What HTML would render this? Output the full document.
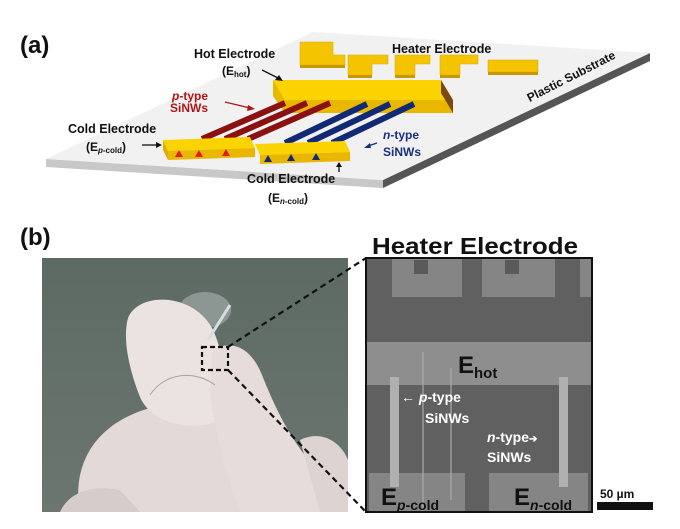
<!DOCTYPE html>
<html><head><meta charset="utf-8"><style>
html,body{margin:0;padding:0;background:#fff;}
svg{display:block;font-family:"Liberation Sans",Arial,sans-serif;}
</style></head><body>
<svg width="680" height="529" viewBox="0 0 680 529" xmlns="http://www.w3.org/2000/svg">
<rect width="680" height="529" fill="#fff"/>
<text x="20" y="53" font-size="24" font-weight="bold" fill="#111">(a)</text>
<polygon points="46,167 383,188 383,180 46,159" fill="#c8c8c8"/>
<polygon points="383,188 650,61 650,53 383,180" fill="#555"/>
<polygon points="46,159 313,32 650,53 383,180" fill="#f1f1f1"/>
<text transform="translate(573,80) rotate(-27)" font-size="12" font-weight="bold" text-anchor="middle" fill="#111">Plastic Substrate</text>
<g fill="#f5c400" stroke="#d9a300" stroke-width="0.5">
<polygon points="300,42 333,42 333,55 345,55 345,65 300,65"/>
<polygon points="348,55 388,55 388,64 372,64 372,75 348,75"/>
<polygon points="395,55 430,55 430,64 415,64 415,75 395,75"/>
<polygon points="440,55 478,55 478,64 460,64 460,75 440,75"/>
<polygon points="488,60 538,60 538,72 488,72"/>
</g>
<g fill="#c99700"><rect x="300" y="65" width="45" height="3"/><rect x="348" y="75" width="24" height="3"/><rect x="395" y="75" width="20" height="3"/><rect x="440" y="75" width="20" height="3"/><rect x="488" y="72" width="50" height="3"/></g>
<text x="392" y="53" font-size="12.5" font-weight="bold" fill="#111">Heater Electrode</text>
<polygon points="273,80 441,80 453,100 285,100" fill="#fbd300"/>
<polygon points="273,80 285,100 285,113 273,96" fill="#e8b800"/>
<polygon points="285,100 453,100 453,113 285,113" fill="#e9b700"/>
<polygon points="453,100 441,80 441,93 453,113" fill="#7a4a10"/>
<g stroke-width="6" stroke-linecap="butt">
<line x1="285" y1="103" x2="202" y2="139" stroke="#8b1010"/>
<line x1="307" y1="103" x2="225" y2="139" stroke="#8b1010"/>
<line x1="330" y1="103" x2="248" y2="139" stroke="#8b1010"/>
<line x1="367" y1="104" x2="285" y2="143" stroke="#122a75"/>
<line x1="390" y1="104" x2="308" y2="143" stroke="#122a75"/>
<line x1="414" y1="104" x2="332" y2="143" stroke="#122a75"/>
</g>
<polygon points="163,140 250,137 255,148 168,151" fill="#fbd300"/>
<polygon points="168,151 255,148 255,157 168,160" fill="#e9b700"/>
<polygon points="163,140 168,151 168,160 163,150" fill="#e0ac00"/>
<polygon points="255,144 345,141 350,152 260,155" fill="#fbd300"/>
<polygon points="260,155 350,152 350,161 260,164" fill="#e9b700"/>
<g fill="#e21c1c"><polygon points="175,157 179,150 183,157"/><polygon points="195,157 199,150 203,157"/><polygon points="222,156 226,149 230,156"/></g>
<g fill="#122a75"><polygon points="264,162 268,155 272,162"/><polygon points="287,161 291,154 295,161"/><polygon points="312,160 316,153 320,160"/></g>
<g font-weight="bold" fill="#111" font-size="12.5">
<text x="194" y="58">Hot Electrode</text>
<text x="222" y="75" font-size="12">(E<tspan font-size="8" dy="2">hot</tspan><tspan dy="-2">)</tspan></text>
<text x="68" y="133">Cold Electrode</text>
<text x="86" y="151" font-size="12">(E<tspan font-size="8" dy="2" font-style="italic">p</tspan><tspan font-size="8">-cold</tspan><tspan dy="-2">)</tspan></text>
<text x="247" y="183">Cold Electrode</text>
<text x="268" y="202" font-size="12">(E<tspan font-size="8" dy="2" font-style="italic">n</tspan><tspan font-size="8">-cold</tspan><tspan dy="-2">)</tspan></text>
</g>
<g fill="#b01515" font-weight="bold" font-size="12"><text x="172" y="100"><tspan font-style="italic">p</tspan>-type</text><text x="170" y="112">SiNWs</text></g>
<g fill="#1a2f80" font-weight="bold" font-size="12"><text x="383" y="139"><tspan font-style="italic">n</tspan>-type</text><text x="383" y="156">SiNWs</text></g>
<g stroke-width="1.3" fill="none">
<line x1="262" y1="70" x2="280" y2="79" stroke="#111"/><polygon points="283,81 275,80 279,75" fill="#111"/>
<line x1="225" y1="102" x2="250" y2="108" stroke="#b01515"/><polygon points="255,109 247,111 248,105" fill="#b01515"/>
<line x1="142" y1="145" x2="157" y2="145" stroke="#111"/><polygon points="162,145 156,142 156,148" fill="#111"/>
<line x1="377" y1="143" x2="368" y2="146" stroke="#1a2f80"/><polygon points="364,148 370,143 371,148" fill="#1a2f80"/>
<line x1="339" y1="172" x2="339" y2="166" stroke="#111"/><polygon points="339,162 336,167 342,167" fill="#111"/>
</g>
<text x="20" y="245" font-size="24" font-weight="bold" fill="#111">(b)</text>
<defs><clipPath id="ph"><rect x="42" y="258" width="306" height="254"/></clipPath>
<linearGradient id="bg" x1="0" y1="0" x2="0" y2="1"><stop offset="0" stop-color="#5d6a64"/><stop offset="1" stop-color="#6c7671"/></linearGradient></defs>
<g clip-path="url(#ph)">
<rect x="42" y="258" width="306" height="254" fill="url(#bg)"/>
<ellipse cx="205" cy="310" rx="26" ry="18" fill="#aab3b0" opacity="0.6"/>
<path d="M80,512 C72,470 90,425 150,408 C200,395 250,400 270,440 L300,512 Z" fill="#e3dad7"/>
<path d="M60,512 C70,490 95,485 120,490 L140,512 Z" fill="#d6ccc9"/>
<path d="M128,318 C138,292 192,292 212,328 C228,360 226,398 215,422 C190,432 150,422 140,397 C130,372 122,340 128,318 Z" fill="#ebe3e0"/>
<path d="M212,350 C230,340 250,345 262,375 C280,420 300,460 348,500 L348,512 L240,512 C225,470 215,430 210,395 Z" fill="#e6dcd9"/>
<path d="M300,440 C320,430 340,440 348,460 L348,512 L320,512 Z" fill="#ddd3d0"/>
<path d="M150,395 C165,372 195,370 215,385" fill="none" stroke="#a9a09d" stroke-width="1"/>
<line x1="208" y1="340" x2="230" y2="305" stroke="#d8dee0" stroke-width="3"/>
</g>
<rect x="202" y="347" width="26" height="23" fill="none" stroke="#111" stroke-width="2.2" stroke-dasharray="5,3"/>
<line x1="228" y1="347" x2="366" y2="258" stroke="#111" stroke-width="2.2" stroke-dasharray="6,4"/>
<line x1="228" y1="370" x2="366" y2="512" stroke="#111" stroke-width="2.2" stroke-dasharray="6,4"/>
<rect x="366" y="258" width="226" height="254" fill="#606060"/>
<rect x="392" y="258" width="70" height="39" fill="#858585"/>
<rect x="482" y="258" width="73" height="39" fill="#858585"/>
<rect x="414" y="260" width="14" height="14" fill="#5a5a5a"/>
<rect x="505" y="260" width="14" height="14" fill="#5a5a5a"/>
<rect x="580" y="258" width="12" height="39" fill="#858585"/>
<rect x="366" y="342" width="226" height="43" fill="#8e8e8e"/>
<rect x="369" y="473" width="96" height="39" fill="#858585"/>
<rect x="489" y="473" width="99" height="39" fill="#858585"/>
<rect x="390" y="377" width="9" height="110" fill="#b0b0b0"/>
<rect x="559" y="377" width="9" height="110" fill="#b0b0b0"/>
<line x1="423" y1="352" x2="423" y2="512" stroke="#aaa" stroke-width="1.2"/>
<line x1="451" y1="368" x2="451" y2="500" stroke="#aaa" stroke-width="1.2"/>
<rect x="366" y="258" width="226" height="254" fill="none" stroke="#111" stroke-width="2"/>
<text x="372" y="254" font-size="23" font-weight="bold" fill="#111" textLength="206" lengthAdjust="spacingAndGlyphs">Heater Electrode</text>
<text x="458" y="373" font-size="24" font-weight="bold" fill="#111">E<tspan font-size="15" dy="5">hot</tspan></text>
<text x="381" y="505" font-size="24" font-weight="bold" fill="#111">E<tspan font-size="14" dy="5" font-style="italic">p</tspan><tspan font-size="14">-cold</tspan></text>
<text x="514" y="505" font-size="24" font-weight="bold" fill="#111">E<tspan font-size="14" dy="5" font-style="italic">n</tspan><tspan font-size="14">-cold</tspan></text>
<g fill="#fff" font-weight="bold" font-size="14">
<text x="401" y="402">← <tspan font-style="italic">p</tspan>-type</text>
<text x="425" y="423">SiNWs</text>
<text x="487" y="442"><tspan font-style="italic">n</tspan>-type<tspan font-size="10">➔</tspan></text>
<text x="487" y="462">SiNWs</text>
</g>
<text x="600" y="498" font-size="12" font-weight="bold" fill="#111">50 µm</text>
<rect x="597" y="502" width="56" height="8" fill="#111"/>
</svg>
</body></html>
